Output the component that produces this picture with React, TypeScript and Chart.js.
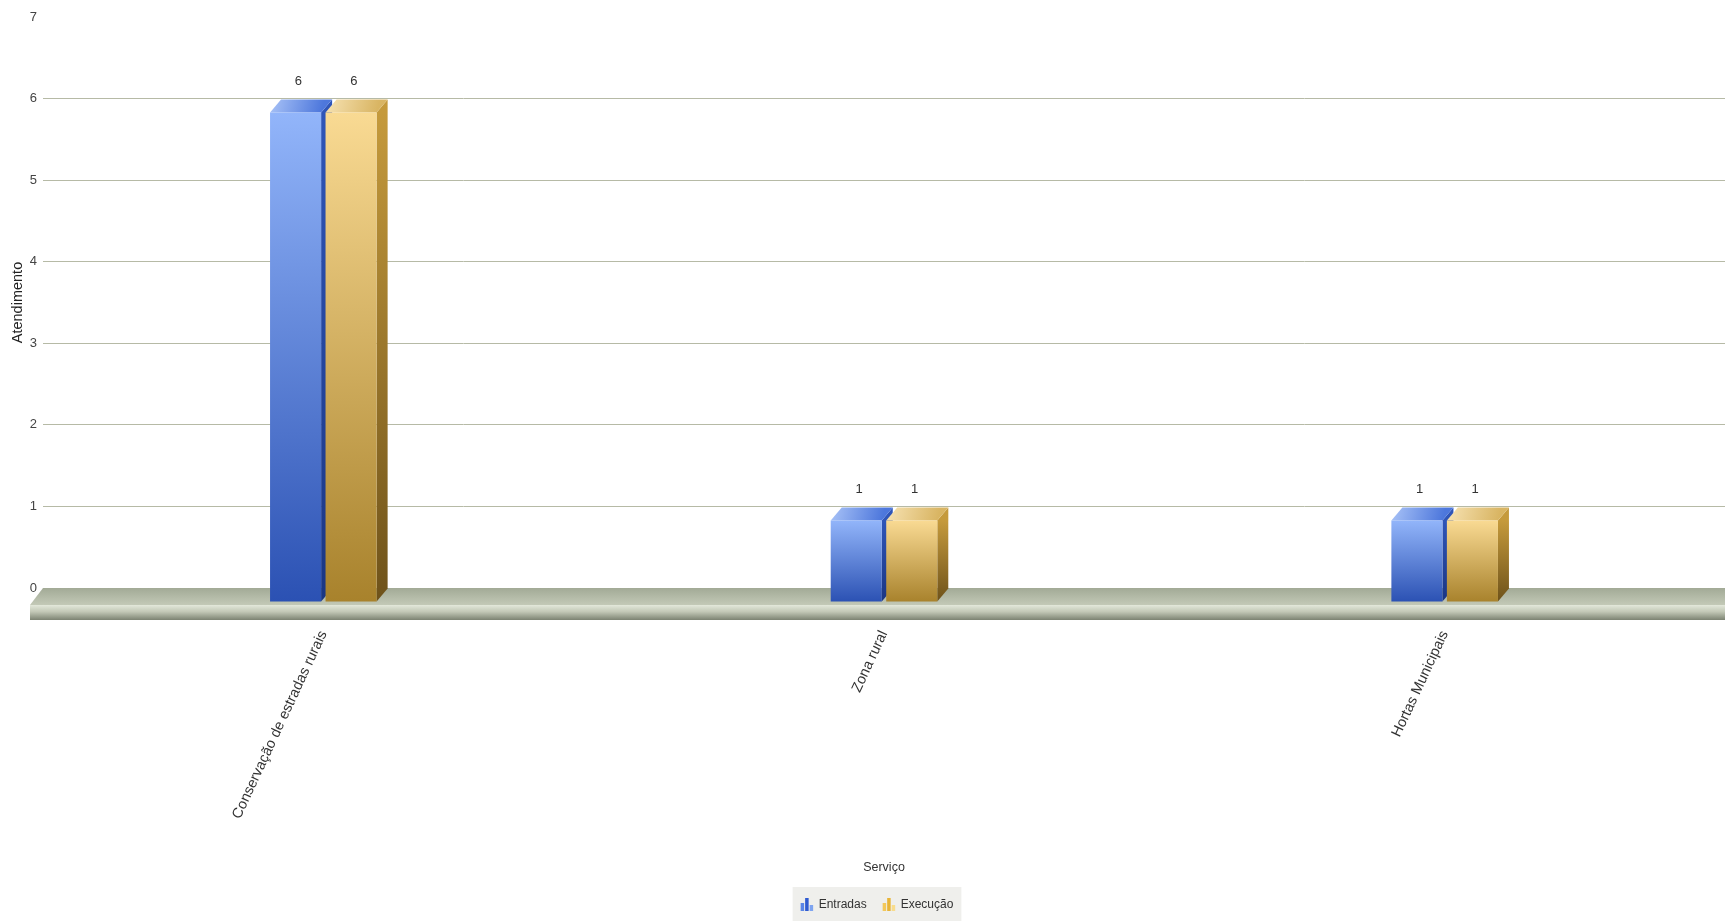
import React, { useEffect, useRef } from "react";
import { Chart, registerables } from "chart.js";

Chart.register(...registerables);

// ---- data ----
const categories = ["Conservação de estradas rurais", "Zona rural", "Hortas Municipais"];
const seriesNames = ["Entradas", "Execução"];
const entradas = [6, 1, 1];
const execucao = [6, 1, 1];
const yMin = 0;
const yMax = 7;
const yStep = 1;
const xTitle = "Serviço";
const yTitle = "Atendimento";

// ---- style ----
const W = 1725;
const H = 921;
const FONT = '"Liberation Sans", Arial, sans-serif';
const DX = 11; // 3D depth (right)
const DY = 13; // 3D depth (up)
const SHIFT = 14; // front plane shift down

const palettes = [
  {
    frontTop: "#92b5fa",
    frontBot: "#2b51b3",
    topA: "#a9c3f7",
    topB: "#4d77dc",
    sideA: "#2f55b8",
    sideB: "#1b3683",
    icon: ["#5b86e6", "#2f5bd0", "#7ea4f0"],
  },
  {
    frontTop: "#f9da93",
    frontBot: "#a8822c",
    topA: "#f7e3b4",
    topB: "#d9b563",
    sideA: "#c59a3c",
    sideB: "#6e521a",
    icon: ["#f3c85a", "#e8b437", "#f8dc8c"],
  },
];

function frontGradient(ctx: any) {
  const chart = ctx.chart;
  const ys = chart.scales && chart.scales.y;
  const pal = palettes[ctx.datasetIndex] || palettes[0];
  if (!ys || ctx.type !== "data") return pal.frontTop;
  const top = ys.getPixelForValue(ctx.raw);
  const bot = ys.getPixelForValue(0);
  if (!isFinite(top) || !isFinite(bot) || top === bot) return pal.frontTop;
  const g = chart.ctx.createLinearGradient(0, top, 0, bot);
  g.addColorStop(0, pal.frontTop);
  g.addColorStop(1, pal.frontBot);
  return g;
}

const threeD = {
  id: "threeD",
  beforeDatasetsDraw(chart: any) {
    const { ctx, chartArea } = chart;
    const ys = chart.scales.y;
    const zero = ys.getPixelForValue(0);
    const left = chartArea.left;
    const right = W + 5;
    // floor top surface
    ctx.save();
    const gTop = ctx.createLinearGradient(0, zero, 0, zero + SHIFT + 3);
    gTop.addColorStop(0, "#a2aa96");
    gTop.addColorStop(1, "#c3c9b7");
    ctx.fillStyle = gTop;
    ctx.beginPath();
    ctx.moveTo(left, zero);
    ctx.lineTo(right, zero);
    ctx.lineTo(right, zero + SHIFT + 3);
    ctx.lineTo(left - DX - 2, zero + SHIFT + 3);
    ctx.closePath();
    ctx.fill();
    // floor front face
    const gF = ctx.createLinearGradient(0, zero + SHIFT + 3, 0, zero + SHIFT + 18);
    gF.addColorStop(0, "#e3e8db");
    gF.addColorStop(0.45, "#c2c8b6");
    gF.addColorStop(1, "#7c8372");
    ctx.fillStyle = gF;
    ctx.fillRect(left - DX - 2, zero + SHIFT + 3, right - (left - DX - 2), 15);
    ctx.restore();

    // 3D sides and tops
    ctx.save();
    ctx.translate(0, SHIFT);
    chart.data.datasets.forEach((ds: any, di: number) => {
      const meta = chart.getDatasetMeta(di);
      const pal = palettes[di];
      meta.data.forEach((el: any) => {
        const { x, y, base, width } = el.getProps(["x", "y", "base", "width"], true);
        if (![x, y, base, width].every((v) => isFinite(v))) return;
        const l = x - width / 2;
        const r = x + width / 2;
        // side
        const gs = ctx.createLinearGradient(0, y, 0, base);
        gs.addColorStop(0, pal.sideA);
        gs.addColorStop(1, pal.sideB);
        ctx.fillStyle = gs;
        ctx.beginPath();
        ctx.moveTo(r, y);
        ctx.lineTo(r + DX, y - DY);
        ctx.lineTo(r + DX, base - DY);
        ctx.lineTo(r, base);
        ctx.closePath();
        ctx.fill();
        // top
        const gt = ctx.createLinearGradient(l, y - DY, r, y);
        gt.addColorStop(0, pal.topA);
        gt.addColorStop(1, pal.topB);
        ctx.fillStyle = gt;
        ctx.beginPath();
        ctx.moveTo(l, y);
        ctx.lineTo(l + DX, y - DY);
        ctx.lineTo(r + DX, y - DY);
        ctx.lineTo(r, y);
        ctx.closePath();
        ctx.fill();
      });
    });
  },
  afterDatasetsDraw(chart: any) {
    const { ctx } = chart;
    ctx.restore();
    // value labels
    ctx.save();
    ctx.font = `13px ${FONT}`;
    ctx.fillStyle = "#333";
    ctx.textAlign = "center";
    ctx.textBaseline = "middle";
    chart.data.datasets.forEach((ds: any, di: number) => {
      const meta = chart.getDatasetMeta(di);
      meta.data.forEach((el: any, i: number) => {
        const { x, y } = el.getProps(["x", "y"], true);
        ctx.fillText(String(ds.data[i]), x + DX / 4, y + SHIFT - DY - 18);
      });
    });
    ctx.restore();
  },
  afterDraw(chart: any) {
    // legend
    const { ctx, chartArea } = chart;
    ctx.save();
    ctx.font = `12px ${FONT}`;
    const iconW = 13;
    const gapIconText = 5;
    const gapItems = 16;
    const padX = 8;
    const widths = chart.data.datasets.map((d: any) => ctx.measureText(d.label).width);
    let total = padX * 2;
    widths.forEach((w: number, i: number) => {
      total += iconW + gapIconText + w + (i < widths.length - 1 ? gapItems : 0);
    });
    const cx = (chartArea.left + chartArea.right) / 2 - 7;
    const bx = cx - total / 2;
    const by = H - 34;
    ctx.fillStyle = "#efefec";
    ctx.fillRect(bx, by, total, 34);
    let x = bx + padX;
    const cy = by + 18;
    chart.data.datasets.forEach((d: any, i: number) => {
      const pal = palettes[i];
      const hs = [8, 13, 6];
      hs.forEach((h, k) => {
        ctx.fillStyle = pal.icon[k];
        ctx.fillRect(x + k * 4.5, cy + 6 - h, 3.5, h);
      });
      x += iconW + gapIconText;
      ctx.fillStyle = "#333";
      ctx.textBaseline = "middle";
      ctx.textAlign = "left";
      ctx.fillText(d.label, x, cy);
      x += widths[i] + gapItems;
    });
    ctx.restore();
  },
};

export default function App() {
  const ref = useRef<HTMLCanvasElement | null>(null);
  useEffect(() => {
    if (!ref.current) return;
    const chart = new Chart(ref.current, {
      type: "bar",
      data: {
        labels: categories,
        datasets: [
          { label: seriesNames[0], data: entradas, backgroundColor: frontGradient, borderWidth: 0, categoryPercentage: 0.198, barPercentage: 0.92 },
          { label: seriesNames[1], data: execucao, backgroundColor: frontGradient, borderWidth: 0, categoryPercentage: 0.198, barPercentage: 0.92 },
        ],
      },
      options: {
        responsive: false,
        animation: false,
        devicePixelRatio: 1,
        layout: { padding: { top: 17, right: 0, bottom: 0, left: 0 } },
        plugins: {
          legend: { display: false },
          tooltip: { enabled: false },
        },
        scales: {
          x: {
            grid: { display: false, drawTicks: false },
            border: { display: false },
            ticks: {
              color: "#333",
              font: { family: FONT, size: 14.5 },
              minRotation: 65,
              maxRotation: 65,
              autoSkip: false,
              padding: 40,
            },
            title: {
              display: true,
              text: xTitle,
              color: "#333",
              font: { family: FONT, size: 12.5 },
              padding: { top: 0, bottom: 46 },
            },
            afterFit: (s: any) => {
              s.height = 333;
            },
          },
          y: {
            min: yMin,
            max: yMax,
            grid: {
              color: (c: any) => (c.tick && c.tick.value === yMax ? "rgba(0,0,0,0)" : "#b6baa6"),
              lineWidth: 1,
              drawTicks: false,
            },
            border: { display: false },
            ticks: {
              stepSize: yStep,
              color: "#444",
              font: { family: FONT, size: 13 },
              padding: 6,
            },
            title: {
              display: true,
              text: yTitle,
              color: "#222",
              font: { family: FONT, size: 14.5 },
              padding: { top: 9.5, bottom: 0 },
            },
            afterFit: (s: any) => {
              s.width = 43;
            },
          },
        },
      },
      plugins: [threeD],
    });
    return () => chart.destroy();
  }, []);
  return (
    <div style={{ position: "absolute", left: 0, top: 0, width: W, height: H, background: "#fff" }}>
      <canvas ref={ref} width={W} height={H} style={{ width: W, height: H, display: "block" }} />
    </div>
  );
}
